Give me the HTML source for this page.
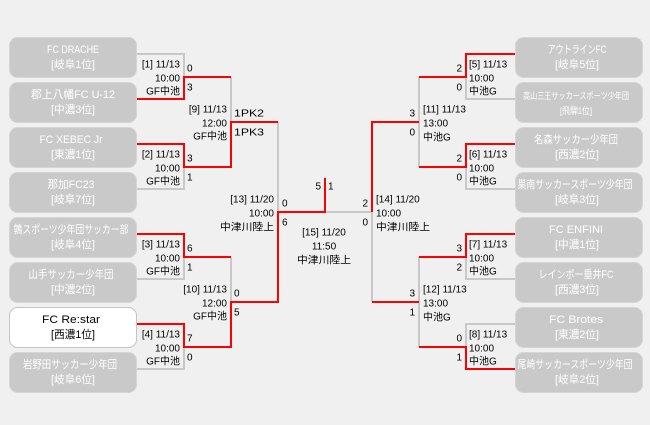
<!DOCTYPE html>
<html><head><meta charset="utf-8">
<style>
html,body{margin:0;padding:0;background:#f0f0f0;}
svg{display:block;}
text{font-family:"Liberation Sans","Noto Sans CJK JP",sans-serif;}
.lb{font-size:10px;fill:#000;}
.tn{font-size:11px;fill:#fff;}
.sm{font-size:9px;fill:#fff;}
.g{fill:none;stroke:#c8c8c8;stroke-width:2;}
.r{fill:none;stroke:#ff0000;stroke-width:2;}
.box{fill:#c9c9c9;stroke:#d5d5d5;stroke-width:1;}
</style></head><body>
<svg width="650" height="425" viewBox="0 0 650 425" xmlns="http://www.w3.org/2000/svg">
<rect x="0" y="0" width="650" height="425" fill="#f0f0f0"/>

<!-- boxes left -->
<rect class="box" x="9.5" y="37.5" width="127" height="40" rx="8"/>
<rect class="box" x="9.5" y="82.5" width="127" height="40" rx="8"/>
<rect class="box" x="9.5" y="127.5" width="127" height="40" rx="8"/>
<rect class="box" x="9.5" y="172.5" width="127" height="40" rx="8"/>
<rect class="box" x="9.5" y="217.5" width="127" height="40" rx="8"/>
<rect class="box" x="9.5" y="262.5" width="127" height="40" rx="8"/>
<rect x="9.5" y="307.5" width="127" height="40" rx="8" fill="#ffffff" stroke="#c4c4c4" stroke-width="1"/>
<rect class="box" x="9.5" y="352.5" width="127" height="40" rx="8"/>
<!-- boxes right -->
<rect class="box" x="515.5" y="37.5" width="127" height="40" rx="8"/>
<rect class="box" x="515.5" y="82.5" width="127" height="40" rx="8"/>
<rect class="box" x="515.5" y="127.5" width="127" height="40" rx="8"/>
<rect class="box" x="515.5" y="172.5" width="127" height="40" rx="8"/>
<rect class="box" x="515.5" y="217.5" width="127" height="40" rx="8"/>
<rect class="box" x="515.5" y="262.5" width="127" height="40" rx="8"/>
<rect class="box" x="515.5" y="307.5" width="127" height="40" rx="8"/>
<rect class="box" x="515.5" y="352.5" width="127" height="40" rx="8"/>

<!-- team names left -->
<g text-anchor="middle">
<text class="tn" x="73" y="53" textLength="52" lengthAdjust="spacingAndGlyphs">FC DRACHE</text>
<text class="tn" x="73" y="68" textLength="44" lengthAdjust="spacingAndGlyphs">[岐阜1位]</text>
<text class="tn" x="73" y="98" textLength="84" lengthAdjust="spacingAndGlyphs">郡上八幡FC U-12</text>
<text class="tn" x="73" y="113" textLength="44" lengthAdjust="spacingAndGlyphs">[中濃3位]</text>
<text class="tn" x="71" y="143" textLength="63" lengthAdjust="spacingAndGlyphs">FC XEBEC Jr</text>
<text class="tn" x="73" y="158" textLength="44" lengthAdjust="spacingAndGlyphs">[東濃1位]</text>
<text class="tn" x="71" y="188" textLength="47" lengthAdjust="spacingAndGlyphs">那加FC23</text>
<text class="tn" x="73" y="203" textLength="44" lengthAdjust="spacingAndGlyphs">[岐阜7位]</text>
<text class="tn" x="71" y="233" textLength="115" lengthAdjust="spacingAndGlyphs">鶉スポーツ少年団サッカー部</text>
<text class="tn" x="73" y="248" textLength="44" lengthAdjust="spacingAndGlyphs">[岐阜4位]</text>
<text class="tn" x="71" y="278" textLength="85" lengthAdjust="spacingAndGlyphs">山手サッカー少年団</text>
<text class="tn" x="73" y="293" textLength="44" lengthAdjust="spacingAndGlyphs">[中濃2位]</text>
<text class="tn" x="71" y="323" textLength="58" lengthAdjust="spacingAndGlyphs" style="fill:#000">FC  Re:star</text>
<text class="tn" x="73" y="338" textLength="44" lengthAdjust="spacingAndGlyphs" style="fill:#000">[西濃1位]</text>
<text class="tn" x="70" y="368" textLength="94" lengthAdjust="spacingAndGlyphs">岩野田サッカー少年団</text>
<text class="tn" x="73" y="383" textLength="44" lengthAdjust="spacingAndGlyphs">[岐阜6位]</text>
</g>
<!-- team names right -->
<g text-anchor="middle">
<text class="tn" x="577" y="53" textLength="59" lengthAdjust="spacingAndGlyphs">アウトラインFC</text>
<text class="tn" x="577" y="68" textLength="44" lengthAdjust="spacingAndGlyphs">[岐阜5位]</text>
<text class="sm" x="576" y="99" textLength="106" lengthAdjust="spacingAndGlyphs">高山三王サッカースポーツ少年団</text>
<text class="sm" x="576" y="114" textLength="32" lengthAdjust="spacingAndGlyphs">[飛騨1位]</text>
<text class="tn" x="576" y="143" textLength="84" lengthAdjust="spacingAndGlyphs">名森サッカー少年団</text>
<text class="tn" x="577" y="158" textLength="44" lengthAdjust="spacingAndGlyphs">[西濃2位]</text>
<text class="tn" x="575" y="188" textLength="115" lengthAdjust="spacingAndGlyphs">巣南サッカースポーツ少年団</text>
<text class="tn" x="577" y="203" textLength="44" lengthAdjust="spacingAndGlyphs">[岐阜3位]</text>
<text class="tn" x="576" y="233" textLength="54" lengthAdjust="spacingAndGlyphs">FC  ENFINI</text>
<text class="tn" x="577" y="248" textLength="44" lengthAdjust="spacingAndGlyphs">[中濃1位]</text>
<text class="tn" x="576" y="278" textLength="75" lengthAdjust="spacingAndGlyphs">レインボー垂井FC</text>
<text class="tn" x="577" y="293" textLength="44" lengthAdjust="spacingAndGlyphs">[西濃3位]</text>
<text class="tn" x="576" y="323" textLength="54" lengthAdjust="spacingAndGlyphs">FC  Brotes</text>
<text class="tn" x="577" y="338" textLength="44" lengthAdjust="spacingAndGlyphs">[東濃2位]</text>
<text class="tn" x="575" y="368" textLength="115" lengthAdjust="spacingAndGlyphs">尾崎サッカースポーツ少年団</text>
<text class="tn" x="577" y="383" textLength="44" lengthAdjust="spacingAndGlyphs">[岐阜2位]</text>
</g>

<!-- gray lines -->
<polyline class="g" points="137,54 184,54 184,77"/>
<polyline class="g" points="137,189 184,189 184,167"/>
<polyline class="g" points="231,77 231,122"/>
<polyline class="g" points="137,279 184,279 184,257"/>
<polyline class="g" points="231,257 231,302"/>
<polyline class="g" points="137,369 184,369 184,347"/>
<polyline class="g" points="278,122 278,212"/>
<polyline class="g" points="325,212 372,212"/>
<polyline class="g" points="372,212 372,302"/>
<polyline class="g" points="515,99 466,99 466,77"/>
<polyline class="g" points="515,189 466,189 466,167"/>
<polyline class="g" points="419,77 419,167"/>
<polyline class="g" points="515,279 466,279 466,257"/>
<polyline class="g" points="515,324 466,324 466,347"/>
<polyline class="g" points="419,257 419,347"/>

<!-- red lines -->
<polyline class="r" points="137,99 184,99 184,77 231,77"/>
<polyline class="r" points="137,144 184,144 184,167 231,167 231,122 278,122"/>
<polyline class="r" points="137,234 184,234 184,257 231,257"/>
<polyline class="r" points="137,324 184,324 184,347 231,347 231,302 278,302 278,212 325,212 325,178"/>
<polyline class="r" points="515,54 466,54 466,77 419,77"/>
<polyline class="r" points="419,122 372,122 372,212"/>
<polyline class="r" points="515,144 466,144 466,167 419,167"/>
<polyline class="r" points="515,234 466,234 466,257 419,257"/>
<polyline class="r" points="419,302 372,302"/>
<polyline class="r" points="515,369 466,369 466,347 419,347"/>

<!-- left round1 labels -->
<g class="lb" text-anchor="end">
<text x="180" y="67.5">[1] 11/13</text><text x="180" y="81.5">10:00</text><text x="180" y="94.5">GF中池</text>
<text x="180" y="157.5">[2] 11/13</text><text x="180" y="171.5">10:00</text><text x="180" y="184.5">GF中池</text>
<text x="180" y="247.5">[3] 11/13</text><text x="180" y="261.5">10:00</text><text x="180" y="274.5">GF中池</text>
<text x="180" y="337.5">[4] 11/13</text><text x="180" y="351.5">10:00</text><text x="180" y="364.5">GF中池</text>
<text x="227" y="112.5">[9] 11/13</text><text x="227" y="126.5">12:00</text><text x="227" y="139.5">GF中池</text>
<text x="227" y="292.5">[10] 11/13</text><text x="227" y="306.5">12:00</text><text x="227" y="319.5">GF中池</text>
<text x="274" y="202.5">[13] 11/20</text><text x="274" y="216.5">10:00</text><text x="274" y="230.5" textLength="54" lengthAdjust="spacingAndGlyphs">中津川陸上</text>
</g>
<!-- left scores -->
<g class="lb">
<text x="187" y="71.5">0</text><text x="187" y="90.5">3</text>
<text x="187" y="161.5">3</text><text x="187" y="180.5">1</text>
<text x="187" y="251.5">6</text><text x="187" y="270.5">1</text>
<text x="187" y="341.5">7</text><text x="187" y="360.5">0</text>
<text x="234" y="116.5" textLength="30" lengthAdjust="spacingAndGlyphs">1PK2</text><text x="234" y="135.5" textLength="30" lengthAdjust="spacingAndGlyphs">1PK3</text>
<text x="234" y="296.5">0</text><text x="234" y="315.5">5</text>
<text x="282" y="206.5">0</text><text x="282" y="225.5">6</text>
</g>

<!-- final -->
<g class="lb" text-anchor="middle">
<text x="324" y="235.5">[15] 11/20</text><text x="324" y="249.5">11:50</text><text x="324" y="263.5" textLength="54" lengthAdjust="spacingAndGlyphs">中津川陸上</text>
</g>
<text class="lb" x="321" y="189.5" text-anchor="end">5</text>
<text class="lb" x="328" y="189.5">1</text>

<!-- right labels -->
<g class="lb">
<text x="469" y="67.5">[5] 11/13</text><text x="469" y="81.5">10:00</text><text x="469" y="94.5">中池G</text>
<text x="469" y="157.5">[6] 11/13</text><text x="469" y="171.5">10:00</text><text x="469" y="184.5">中池G</text>
<text x="469" y="247.5">[7] 11/13</text><text x="469" y="261.5">10:00</text><text x="469" y="274.5">中池G</text>
<text x="469" y="337.5">[8] 11/13</text><text x="469" y="351.5">10:00</text><text x="469" y="364.5">中池G</text>
<text x="423" y="112.5">[11] 11/13</text><text x="423" y="126.5">13:00</text><text x="423" y="140.5">中池G</text>
<text x="423" y="292.5">[12] 11/13</text><text x="423" y="306.5">13:00</text><text x="423" y="320.5">中池G</text>
<text x="376" y="202.5">[14] 11/20</text><text x="376" y="216.5">10:00</text><text x="376" y="230.5" textLength="54" lengthAdjust="spacingAndGlyphs">中津川陸上</text>
</g>
<g class="lb" text-anchor="end">
<text x="462" y="71.5">2</text><text x="462" y="90.5">0</text>
<text x="462" y="161.5">2</text><text x="462" y="180.5">0</text>
<text x="462" y="251.5">3</text><text x="462" y="270.5">2</text>
<text x="462" y="341.5">0</text><text x="462" y="360.5">1</text>
<text x="415" y="116.5">3</text><text x="415" y="135.5">0</text>
<text x="415" y="296.5">3</text><text x="415" y="315.5">1</text>
<text x="368" y="206.5">2</text><text x="368" y="225.5">0</text>
</g>
</svg>
</body></html>
